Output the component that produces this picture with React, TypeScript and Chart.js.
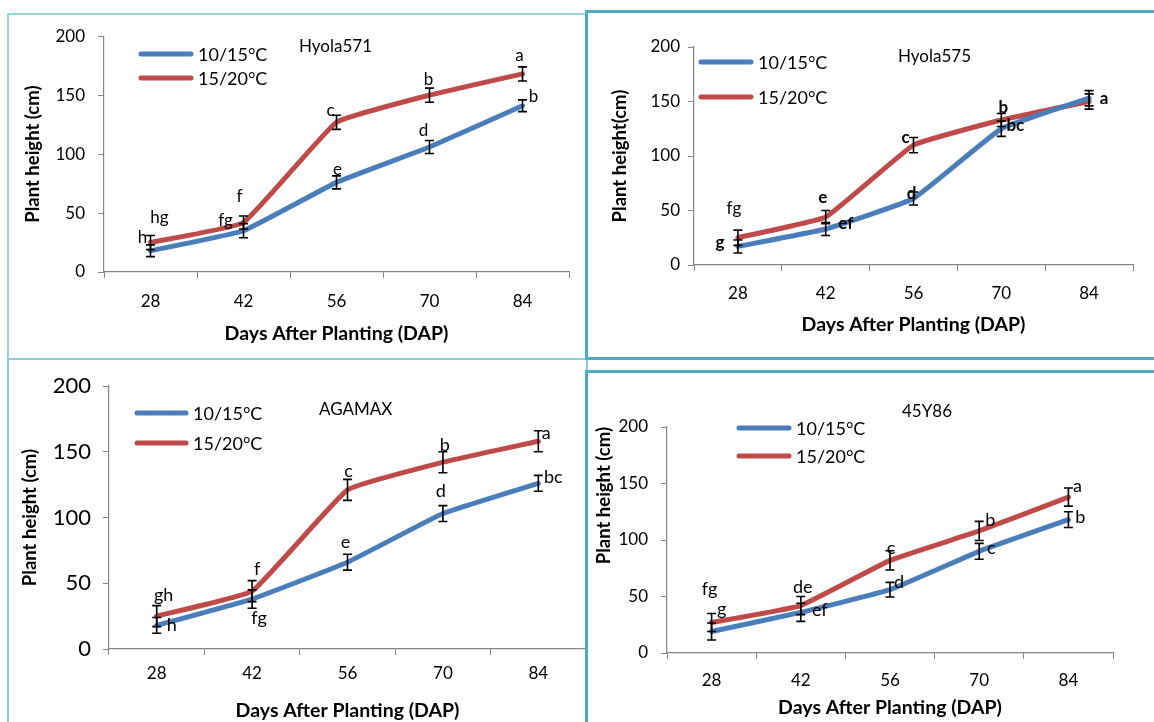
import React, { useEffect, useRef } from "react";
import { Chart, registerables } from "chart.js";

Chart.register(...registerables);

// ---------------- data ----------------
const days = ["28", "42", "56", "70", "84"];
const yTicks = [0, 50, 100, 150, 200];
const seriesNames = ["10/15°C", "15/20°C"];
const xTitle = "Days After Planting (DAP)";

// Hyola571
const h571Low = [18, 35, 76, 106, 141];
const h571LowErr = [5, 6, 5.5, 5.5, 5];
const h571High = [25, 42, 127, 150, 168];
const h571HighErr = [6, 5.5, 6, 6, 6];
const h571LowLetters = ["h", "fg", "e", "d", "b"];
const h571HighLetters = ["hg", "f", "c", "b", "a"];

// Hyola575
const h575Low = [17, 33, 61, 125, 153];
const h575LowErr = [6, 6, 6, 7, 7];
const h575High = [25, 44, 110, 133, 150];
const h575HighErr = [7, 6, 7, 6, 7];
const h575LowLetters = ["g", "ef", "d", "bc", ""];
const h575HighLetters = ["fg", "e", "c", "b", "a"];

// AGAMAX
const agaLow = [18, 38, 66, 103, 126];
const agaLowErr = [6, 7, 6, 6, 6];
const agaHigh = [25, 44, 121, 142, 158];
const agaHighErr = [8, 8, 8, 8, 8];
const agaLowLetters = ["h", "fg", "e", "d", "bc"];
const agaHighLetters = ["gh", "f", "c", "b", "a"];

// 45Y86
const y86Low = [19, 36, 56, 90, 118];
const y86LowErr = [7.5, 8, 6.5, 7, 7];
const y86High = [27, 42, 82, 108, 138];
const y86HighErr = [8, 8, 8.5, 8.5, 8];
const y86LowLetters = ["g", "ef", "d", "c", "b"];
const y86HighLetters = ["fg", "de", "c", "b", "a"];

// ---------------- styles ----------------
const BLUE = "#4A7EBB";
const RED = "#BE4B48";
const AXIS = "#868686";
const FONT = "Lato, 'Open Sans', 'DejaVu Sans', sans-serif";
const X_TITLE_SIZE = 19.5;
const Y_TITLE_SIZE = 18.5;

type Off = [number, number];

interface PanelDef {
  name: string;
  yTitle: string;
  low: number[];
  lowErr: number[];
  high: number[];
  highErr: number[];
  lowLetters: string[];
  highLetters: string[];
  box: [number, number, number, number]; // page left, top, width, height
  area: [number, number, number, number]; // canvas left, top, right, bottom
  yTickSize: number;
  xTickSize: number;
  xTickPad: number;
  yTickPad: number;
  yTitlePad: number;
  xTitlePad: number;
  yTitleAlign: "center" | "end";
  legendX: number;
  legendY: [number, number];
  legendLen: number;
  nameX: number;
  nameY: number;
  nameSize: number;
  letterSize: number;
  lowOff: Off[];
  highOff: Off[];
  lowBold: boolean[];
  highBold: boolean[];
}

const none = [false, false, false, false, false];

const panels: PanelDef[] = [
  {
    name: "Hyola571",
    yTitle: "Plant height (cm)",
    low: h571Low, lowErr: h571LowErr, high: h571High, highErr: h571HighErr,
    lowLetters: h571LowLetters, highLetters: h571HighLetters,
    box: [8, 13, 579, 346],
    area: [96, 18, 561, 259],
    yTickSize: 17, xTickSize: 17, xTickPad: 13, yTickPad: 13,
    yTitlePad: 14, xTitlePad: 13.5, yTitleAlign: "center",
    legendX: 131, legendY: [41, 65], legendLen: 54,
    nameX: 291, nameY: 34, nameSize: 17,
    letterSize: 17,
    lowOff: [[-8, -13], [-18, -10], [1, -13], [-6, -17], [11, -9]],
    highOff: [[9, -25], [-4, -26], [-6, -12], [-1, -16], [-3, -18]],
    lowBold: none, highBold: none,
  },
  {
    name: "Hyola575",
    yTitle: "Plant height(cm)",
    low: h575Low, lowErr: h575LowErr, high: h575High, highErr: h575HighErr,
    lowLetters: h575LowLetters, highLetters: h575HighLetters,
    box: [586, 11, 568, 348],
    area: [108, 36, 547, 254],
    yTickSize: 17, xTickSize: 17, xTickPad: 12, yTickPad: 8,
    yTitlePad: 23, xTitlePad: 22.5, yTitleAlign: "center",
    legendX: 113, legendY: [51, 86], legendLen: 54,
    nameX: 312, nameY: 46, nameSize: 17,
    letterSize: 17,
    lowOff: [[-18, -4], [20, -6], [-2, -5], [14, -3], [0, 0]],
    highOff: [[-4, -29], [-3, -20], [-8, -8], [2, -13], [15, -3]],
    lowBold: [true, true, true, true, true], highBold: [false, true, true, true, true],
  },
  {
    name: "AGAMAX",
    yTitle: "Plant height (cm)",
    low: agaLow, lowErr: agaLowErr, high: agaHigh, highErr: agaHighErr,
    lowLetters: agaLowLetters, highLetters: agaHighLetters,
    box: [8, 359, 579, 363],
    area: [101, 27, 578, 290],
    yTickSize: 22, xTickSize: 17, xTickPad: 8, yTickPad: 12,
    yTitlePad: 11, xTitlePad: 0, yTitleAlign: "center",
    legendX: 127, legendY: [54, 84], legendLen: 53,
    nameX: 311, nameY: 51, nameSize: 17,
    letterSize: 18,
    lowOff: [[15, 0], [7, 19], [-2, -20], [-2, -22], [15, -6]],
    highOff: [[7, -21], [5, -22], [1, -19], [2, -17], [8, -8]],
    lowBold: none, highBold: none,
  },
  {
    name: "45Y86",
    yTitle: "Plant height (cm)",
    low: y86Low, lowErr: y86LowErr, high: y86High, highErr: y86HighErr,
    lowLetters: y86LowLetters, highLetters: y86HighLetters,
    box: [586, 372, 568, 350],
    area: [81, 55, 527, 281],
    yTickSize: 17, xTickSize: 17, xTickPad: 11, yTickPad: 13,
    yTitlePad: 7, xTitlePad: 2.5, yTitleAlign: "end",
    legendX: 151, legendY: [56, 84], legendLen: 54,
    nameX: 316, nameY: 40, nameSize: 17,
    letterSize: 18,
    lowOff: [[10, -22], [19, -2], [9, -8], [12, -3], [12, -2]],
    highOff: [[-2, -33], [2, -18], [1, -12], [11, -11], [9, -11]],
    lowBold: none, highBold: none,
  },
];

function makeAnnotPlugin(p: PanelDef) {
  return {
    id: "annot_" + p.name,
    afterDatasetsDraw(chart: any) {
      const ctx: CanvasRenderingContext2D = chart.ctx;
      const ys = chart.scales.y;
      const sets = [
        { vals: p.low, errs: p.lowErr, letters: p.lowLetters, off: p.lowOff, bold: p.lowBold, idx: 0 },
        { vals: p.high, errs: p.highErr, letters: p.highLetters, off: p.highOff, bold: p.highBold, idx: 1 },
      ];
      ctx.save();
      // error bars
      ctx.strokeStyle = "#000";
      ctx.lineWidth = 1.6;
      sets.forEach((s) => {
        const meta = chart.getDatasetMeta(s.idx);
        meta.data.forEach((pt: any, i: number) => {
          const x = pt.x;
          const top = ys.getPixelForValue(s.vals[i] + s.errs[i]);
          const bot = ys.getPixelForValue(s.vals[i] - s.errs[i]);
          ctx.beginPath();
          ctx.moveTo(x, top);
          ctx.lineTo(x, bot);
          ctx.moveTo(x - 4.5, top);
          ctx.lineTo(x + 4.5, top);
          ctx.moveTo(x - 4.5, bot);
          ctx.lineTo(x + 4.5, bot);
          ctx.stroke();
        });
      });
      // letters
      ctx.fillStyle = "#000";
      ctx.textAlign = "center";
      ctx.textBaseline = "middle";
      sets.forEach((s) => {
        const meta = chart.getDatasetMeta(s.idx);
        meta.data.forEach((pt: any, i: number) => {
          const t = s.letters[i];
          if (!t) return;
          ctx.font = `${s.bold[i] ? "bold " : ""}${p.letterSize}px ${FONT}`;
          ctx.fillText(t, pt.x + s.off[i][0], pt.y + s.off[i][1]);
        });
      });
      ctx.restore();
    },
    afterDraw(chart: any) {
      const ctx: CanvasRenderingContext2D = chart.ctx;
      ctx.save();
      // legend
      const cols = [BLUE, RED];
      ctx.lineCap = "round";
      ctx.lineWidth = 5;
      ctx.textAlign = "left";
      ctx.textBaseline = "middle";
      ctx.font = `18px ${FONT}`;
      seriesNames.forEach((n, i) => {
        const y = p.legendY[i];
        ctx.strokeStyle = cols[i];
        ctx.beginPath();
        ctx.moveTo(p.legendX + 2, y);
        ctx.lineTo(p.legendX + p.legendLen - 2, y);
        ctx.stroke();
        ctx.fillStyle = "#000";
        ctx.fillText(n, p.legendX + p.legendLen + 5, y + 1);
      });
      // panel name
      ctx.font = `${p.nameSize}px ${FONT}`;
      ctx.fillText(p.name, p.nameX, p.nameY);
      ctx.restore();
    },
  };
}

function Panel({ p }: { p: PanelDef }) {
  const ref = useRef<HTMLCanvasElement | null>(null);
  useEffect(() => {
    if (!ref.current) return;
    const [, , W, H] = p.box;
    const [aL, aT, aR, aB] = p.area;
    const chart = new Chart(ref.current, {
      type: "line",
      data: {
        labels: days,
        datasets: [
          {
            label: seriesNames[0],
            data: p.low,
            borderColor: BLUE,
            backgroundColor: BLUE,
            borderWidth: 5,
            pointRadius: 0,
            tension: 0.1,
            borderJoinStyle: "round",
            borderCapStyle: "round",
          },
          {
            label: seriesNames[1],
            data: p.high,
            borderColor: RED,
            backgroundColor: RED,
            borderWidth: 5,
            pointRadius: 0,
            tension: 0.1,
            borderJoinStyle: "round",
            borderCapStyle: "round",
          },
        ],
      },
      options: {
        responsive: false,
        animation: false,
        devicePixelRatio: 1,
        layout: { padding: { left: 0, top: aT, right: W - aR, bottom: 0 } },
        plugins: { legend: { display: false }, tooltip: { enabled: false }, title: { display: false } },
        scales: {
          x: {
            type: "category",
            offset: true,
            grid: { offset: true, drawOnChartArea: false, drawTicks: true, tickLength: 6, color: AXIS },
            border: { display: true, color: AXIS, width: 1.2 },
            ticks: { color: "#000", font: { family: FONT, size: p.xTickSize }, padding: p.xTickPad, maxRotation: 0 },
            title: {
              display: true,
              text: xTitle,
              color: "#000",
              font: { family: FONT, size: X_TITLE_SIZE, weight: "bold" },
              padding: { top: 0, bottom: p.xTitlePad },
            },
            afterFit: (s: any) => {
              s.height = H - aB;
            },
          },
          y: {
            type: "linear",
            min: 0,
            max: 200,
            grid: { drawOnChartArea: false, drawTicks: true, tickLength: 6, color: AXIS },
            border: { display: true, color: AXIS, width: 1.2 },
            ticks: { color: "#000", font: { family: FONT, size: p.yTickSize }, padding: p.yTickPad },
            afterBuildTicks: (s: any) => {
              s.ticks = yTicks.map((v) => ({ value: v }));
            },
            title: {
              display: true,
              text: p.yTitle,
              align: p.yTitleAlign,
              color: "#000",
              font: { family: FONT, size: Y_TITLE_SIZE, weight: "bold" },
              padding: { top: p.yTitlePad, bottom: 0 },
            },
            afterFit: (s: any) => {
              s.width = aL;
            },
          },
        },
      } as any,
      plugins: [makeAnnotPlugin(p)],
    });
    return () => chart.destroy();
  }, [p]);
  const [L, T, W, H] = p.box;
  return (
    <canvas
      ref={ref}
      width={W}
      height={H}
      style={{ position: "absolute", left: L, top: T, width: W, height: H }}
    />
  );
}

const borderBase: React.CSSProperties = { position: "absolute", boxSizing: "border-box", pointerEvents: "none" };

export default function App() {
  return (
    <div style={{ position: "fixed", left: 0, top: 0, width: 1154, height: 722, background: "#fff", overflow: "hidden" }}>
      {panels.map((p) => (
        <Panel key={p.name} p={p} />
      ))}
      <div style={{ ...borderBase, left: 7, top: 13, width: 581, height: 347, border: "2px solid #9CD2E0" }} />
      <div style={{ ...borderBase, left: 7, top: 358, width: 581, height: 380, border: "2px solid #8ECBDB" }} />
      <div style={{ ...borderBase, left: 585, top: 10, width: 580, height: 350, border: "3px solid #4BACC6" }} />
      <div style={{ ...borderBase, left: 585, top: 370, width: 580, height: 380, border: "3px solid #4BACC6" }} />
    </div>
  );
}
